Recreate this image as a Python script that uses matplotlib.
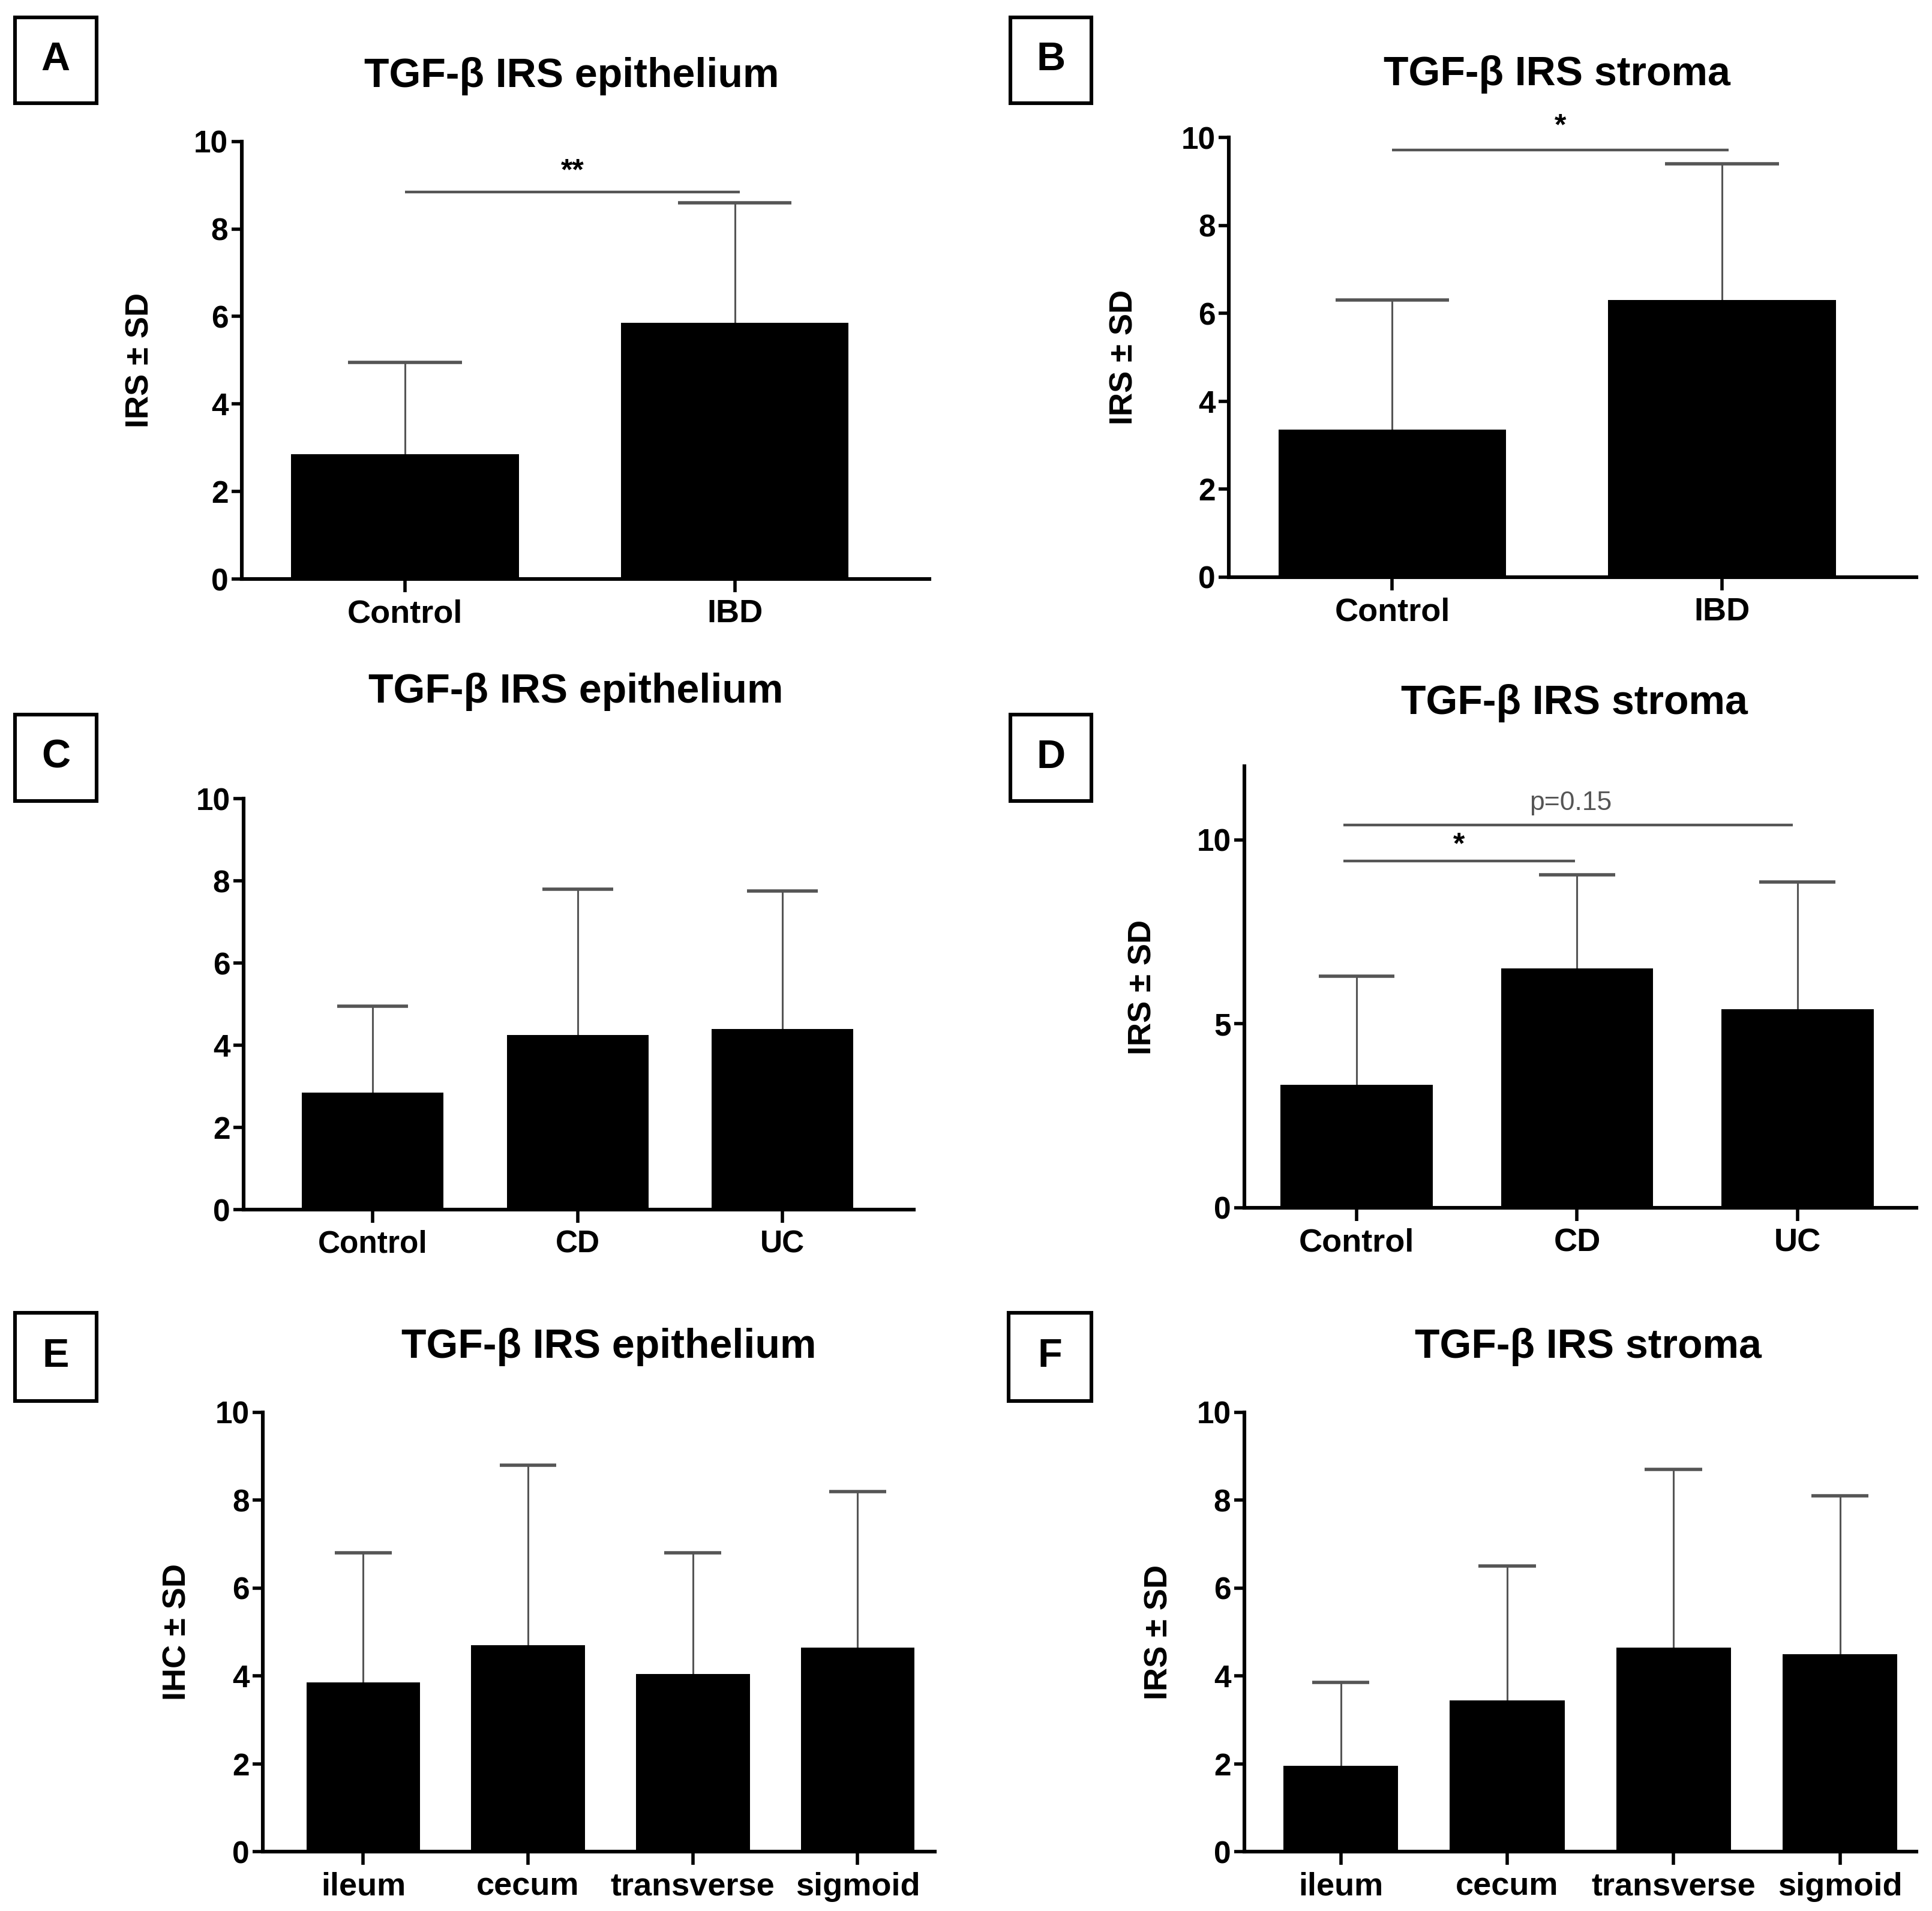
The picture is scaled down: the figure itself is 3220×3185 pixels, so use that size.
import matplotlib
matplotlib.use("Agg")
import matplotlib.pyplot as plt
from matplotlib.patches import Rectangle

plt.rcParams['font.family'] = ['Liberation Sans', 'DejaVu Sans']

# panel A / B : control vs IBD
ab_groups = ['Control', 'IBD']
a_mean = [2.85, 5.85]
a_top = [4.95, 8.6]
b_mean = [3.35, 6.3]
b_top = [6.3, 9.4]

# panel C / D : control vs CD vs UC
cd_groups = ['Control', 'CD', 'UC']
c_mean = [2.85, 4.25, 4.4]
c_top = [4.95, 7.8, 7.75]
d_mean = [3.35, 6.5, 5.4]
d_top = [6.3, 9.05, 8.85]

# panel E / F : location
ef_groups = ['ileum', 'cecum', 'transverse', 'sigmoid']
e_mean = [3.85, 4.7, 4.05, 4.65]
e_top = [6.8, 8.8, 6.8, 8.2]
f_mean = [1.95, 3.45, 4.65, 4.5]
f_top = [3.85, 6.5, 8.7, 8.1]

GRAY = '#555555'

fig = plt.figure(figsize=(16.1, 15.925), dpi=200)


def panel(rect, groups, means, tops, xlim, ylim, yticks, title, tpos,
          ylabel=None, ylab_x=-0.13, fs=19.5):
    ax = fig.add_axes(rect)
    x = list(range(len(groups)))
    w = 0.69
    ax.bar(x, means, width=w, color='black', zorder=2)
    ax.vlines(x, means, tops, color=GRAY, lw=1.1, zorder=1)
    ax.hlines(tops, [i - w / 4 for i in x], [i + w / 4 for i in x],
              color=GRAY, lw=2.0, zorder=1)
    ax.set_xlim(*xlim)
    ax.set_ylim(*ylim)
    ax.set_xticks(x)
    ax.set_xticklabels(groups, fontsize=fs, fontweight='bold')
    ax.set_yticks(yticks)
    ax.set_yticklabels([str(t) for t in yticks], fontsize=18.5, fontweight='bold')
    for s in ['top', 'right']:
        ax.spines[s].set_visible(False)
    for s in ['left', 'bottom']:
        ax.spines[s].set_linewidth(2.2)
    ax.tick_params(axis='y', direction='out', length=6, width=2, pad=2)
    ax.tick_params(axis='x', direction='out', length=8, width=2, pad=4)
    if ylabel:
        ax.set_ylabel(ylabel, fontsize=19.5, fontweight='bold')
        ax.yaxis.set_label_coords(ylab_x, 0.5)
    fig.text(tpos[0], tpos[1], title, fontsize=24.5, fontweight='bold',
             ha='center', va='center')
    return ax


def letter_box(x0, y0, x1, y1, letter):
    fig.patches.append(Rectangle((x0, y0), x1 - x0, y1 - y0, fill=False,
                                 lw=2.2, ec='black', transform=fig.transFigure))
    fig.text((x0 + x1) / 2, (y0 + y1) / 2, letter, fontsize=24,
             fontweight='bold', ha='center', va='center')


def sig(ax, x0, x1, y, label, ty, tx=None, color='black', weight='bold', size=18):
    ax.hlines(y, x0, x1, color=GRAY, lw=1.6, clip_on=False)
    if tx is None:
        tx = (x0 + x1) / 2
    ax.text(tx, ty, label, ha='center', va='center', fontsize=size,
            fontweight=weight, color=color, clip_on=False)


axA = panel([0.125, 0.697, 0.356, 0.229], ab_groups, a_mean, a_top,
            (-0.496, 1.59), (0, 10), [0, 2, 4, 6, 8, 10],
            'TGF-β IRS epithelium', (0.296, 0.960), 'IRS ± SD', -0.126)
sig(axA, 0, 1.015, 8.85, '**', 9.3)

axB = panel([0.636, 0.698, 0.356, 0.230], ab_groups, b_mean, b_top,
            (-0.496, 1.59), (0, 10), [0, 2, 4, 6, 8, 10],
            'TGF-β IRS stroma', (0.806, 0.961), 'IRS ± SD', -0.13)
sig(axB, 0, 1.02, 9.72, '*', 10.25)

axC = panel([0.126, 0.367, 0.347, 0.215], cd_groups, c_mean, c_top,
            (-0.63, 2.64), (0, 10), [0, 2, 4, 6, 8, 10],
            'TGF-β IRS epithelium', (0.298, 0.638), fs=18.5)

axD = panel([0.644, 0.368, 0.348, 0.231], cd_groups, d_mean, d_top,
            (-0.51, 2.54), (0, 12), [0, 5, 10],
            'TGF-β IRS stroma', (0.815, 0.632), 'IRS ± SD', -0.129)
sig(axD, -0.06, 0.99, 9.43, '*', 9.85)
sig(axD, -0.06, 1.98, 10.4, 'p=0.15', 11.0, tx=0.97, color=GRAY,
    weight='normal', size=16)

axE = panel([0.136, 0.031, 0.348, 0.230], ef_groups, e_mean, e_top,
            (-0.61, 3.47), (0, 10), [0, 2, 4, 6, 8, 10],
            'TGF-β IRS epithelium', (0.315, 0.295), 'IHC ± SD', -0.105)

axF = panel([0.644, 0.031, 0.348, 0.230], ef_groups, f_mean, f_top,
            (-0.58, 3.46), (0, 10), [0, 2, 4, 6, 8, 10],
            'TGF-β IRS stroma', (0.822, 0.295), 'IRS ± SD', -0.105)

letter_box(0.0077, 0.946, 0.050, 0.991, 'A')
letter_box(0.523, 0.946, 0.565, 0.991, 'B')
letter_box(0.0077, 0.581, 0.050, 0.626, 'C')
letter_box(0.523, 0.581, 0.565, 0.626, 'D')
letter_box(0.0077, 0.267, 0.050, 0.313, 'E')
letter_box(0.522, 0.267, 0.565, 0.313, 'F')

fig.savefig('out.png', dpi=200, facecolor='white')
